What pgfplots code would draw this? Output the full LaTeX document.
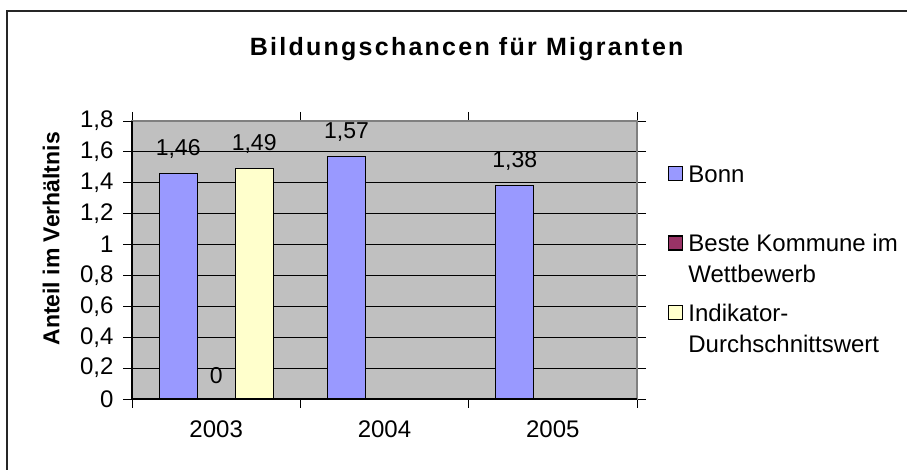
\documentclass[border=0pt]{standalone}
\usepackage{fontspec}
\setmainfont{Liberation Sans}
\usepackage{pgfplots}
\pgfplotsset{compat=1.18}

\definecolor{bonn}{HTML}{9999FF}
\definecolor{beste}{HTML}{993366}
\definecolor{indik}{HTML}{FFFFCC}
\definecolor{plotgray}{HTML}{C0C0C0}
\definecolor{framegray}{HTML}{808080}

% legend square sits on the first of two text lines
\pgfplotsset{
  legsq/.style={legend image code/.code={\draw[##1, line width=1.2pt] (0pt,33pt) rectangle (14pt,47pt);}},
}

\begin{document}
\begin{tikzpicture}
\useasboundingbox (0pt,0pt) rectangle (907pt,470pt);
% outer chart frame (only left and top visible)
\draw[line width=1.5pt, black!85] (7pt,0pt) |- (907pt,459pt);
\node[font=\bfseries\fontsize{25}{29}\selectfont\addfontfeatures{LetterSpace=9}, anchor=base]
  at (466.7pt,414.3pt) {Bildungschancen für Migranten};

\begin{axis}[
  name=ax,
  at={(132pt,71pt)}, anchor=south west,
  scale only axis, width=505pt, height=278pt,
  ybar=0pt, bar width=38pt,
  xmin=-0.5, xmax=2.5, ymin=0, ymax=1.8,
  xtick={-0.5,0.5,1.5,2.5}, xticklabels={},
  extra x ticks={0,1,2}, extra x tick labels={2003,2004,2005},
  extra x tick style={tick style={draw=none}},
  xticklabel style={anchor=base, yshift=-30pt},
  ytick={0,0.2,0.4,0.6,0.8,1,1.2,1.4,1.6,1.8},
  yticklabel style={/pgf/number format/.cd, fixed, precision=1, use comma, assume math mode=true, /tikz/.cd, anchor=east, xshift=-6pt},
  ymajorgrids, grid style={black, line width=0.8pt},
  tick align=outside, major tick length=9pt,
  tick style={black, line width=0.8pt},
  axis background/.style={fill=plotgray},
  axis line style={draw=framegray, line width=1.6pt},
  ticklabel style={font=\fontsize{24}{28}\selectfont},
  ylabel={Anteil im Verhältnis},
  ylabel style={at={(axis description cs:-0.160,0.576)}, anchor=center, font=\bfseries\fontsize{23}{27}\selectfont},
  nodes near coords,
  nodes near coords style={font=\fontsize{23}{27}\selectfont, text=black, anchor=south, yshift=11pt,
    /pgf/number format/.cd, fixed, precision=2, use comma, assume math mode=true},
  legend style={at={(axis description cs:1.0614,0.8475)}, anchor=north west, draw=none, fill=none,
    font=\fontsize{24}{31}\selectfont, cells={anchor=base west, align=left}, row sep=16pt,
    column sep=3pt, inner sep=0pt},
]
\addplot[fill=bonn, draw=black, line width=1.2pt, legsq] coordinates {(0,1.46) (1,1.57) (2,1.38)};
\addplot[fill=beste, draw=black, line width=1.2pt, legsq] coordinates {(0,0)};
\addplot[fill=indik, draw=black, line width=1.2pt, legsq] coordinates {(0,1.49)};
\legend{Bonn\\\mbox{}, Beste Kommune im\\Wettbewerb, Indikator-\\Durchschnittswert}
\end{axis}
\draw[black, line width=1.2pt] (ax.north west) -- (ax.south west) -- (ax.south east);
\end{tikzpicture}
\end{document}
